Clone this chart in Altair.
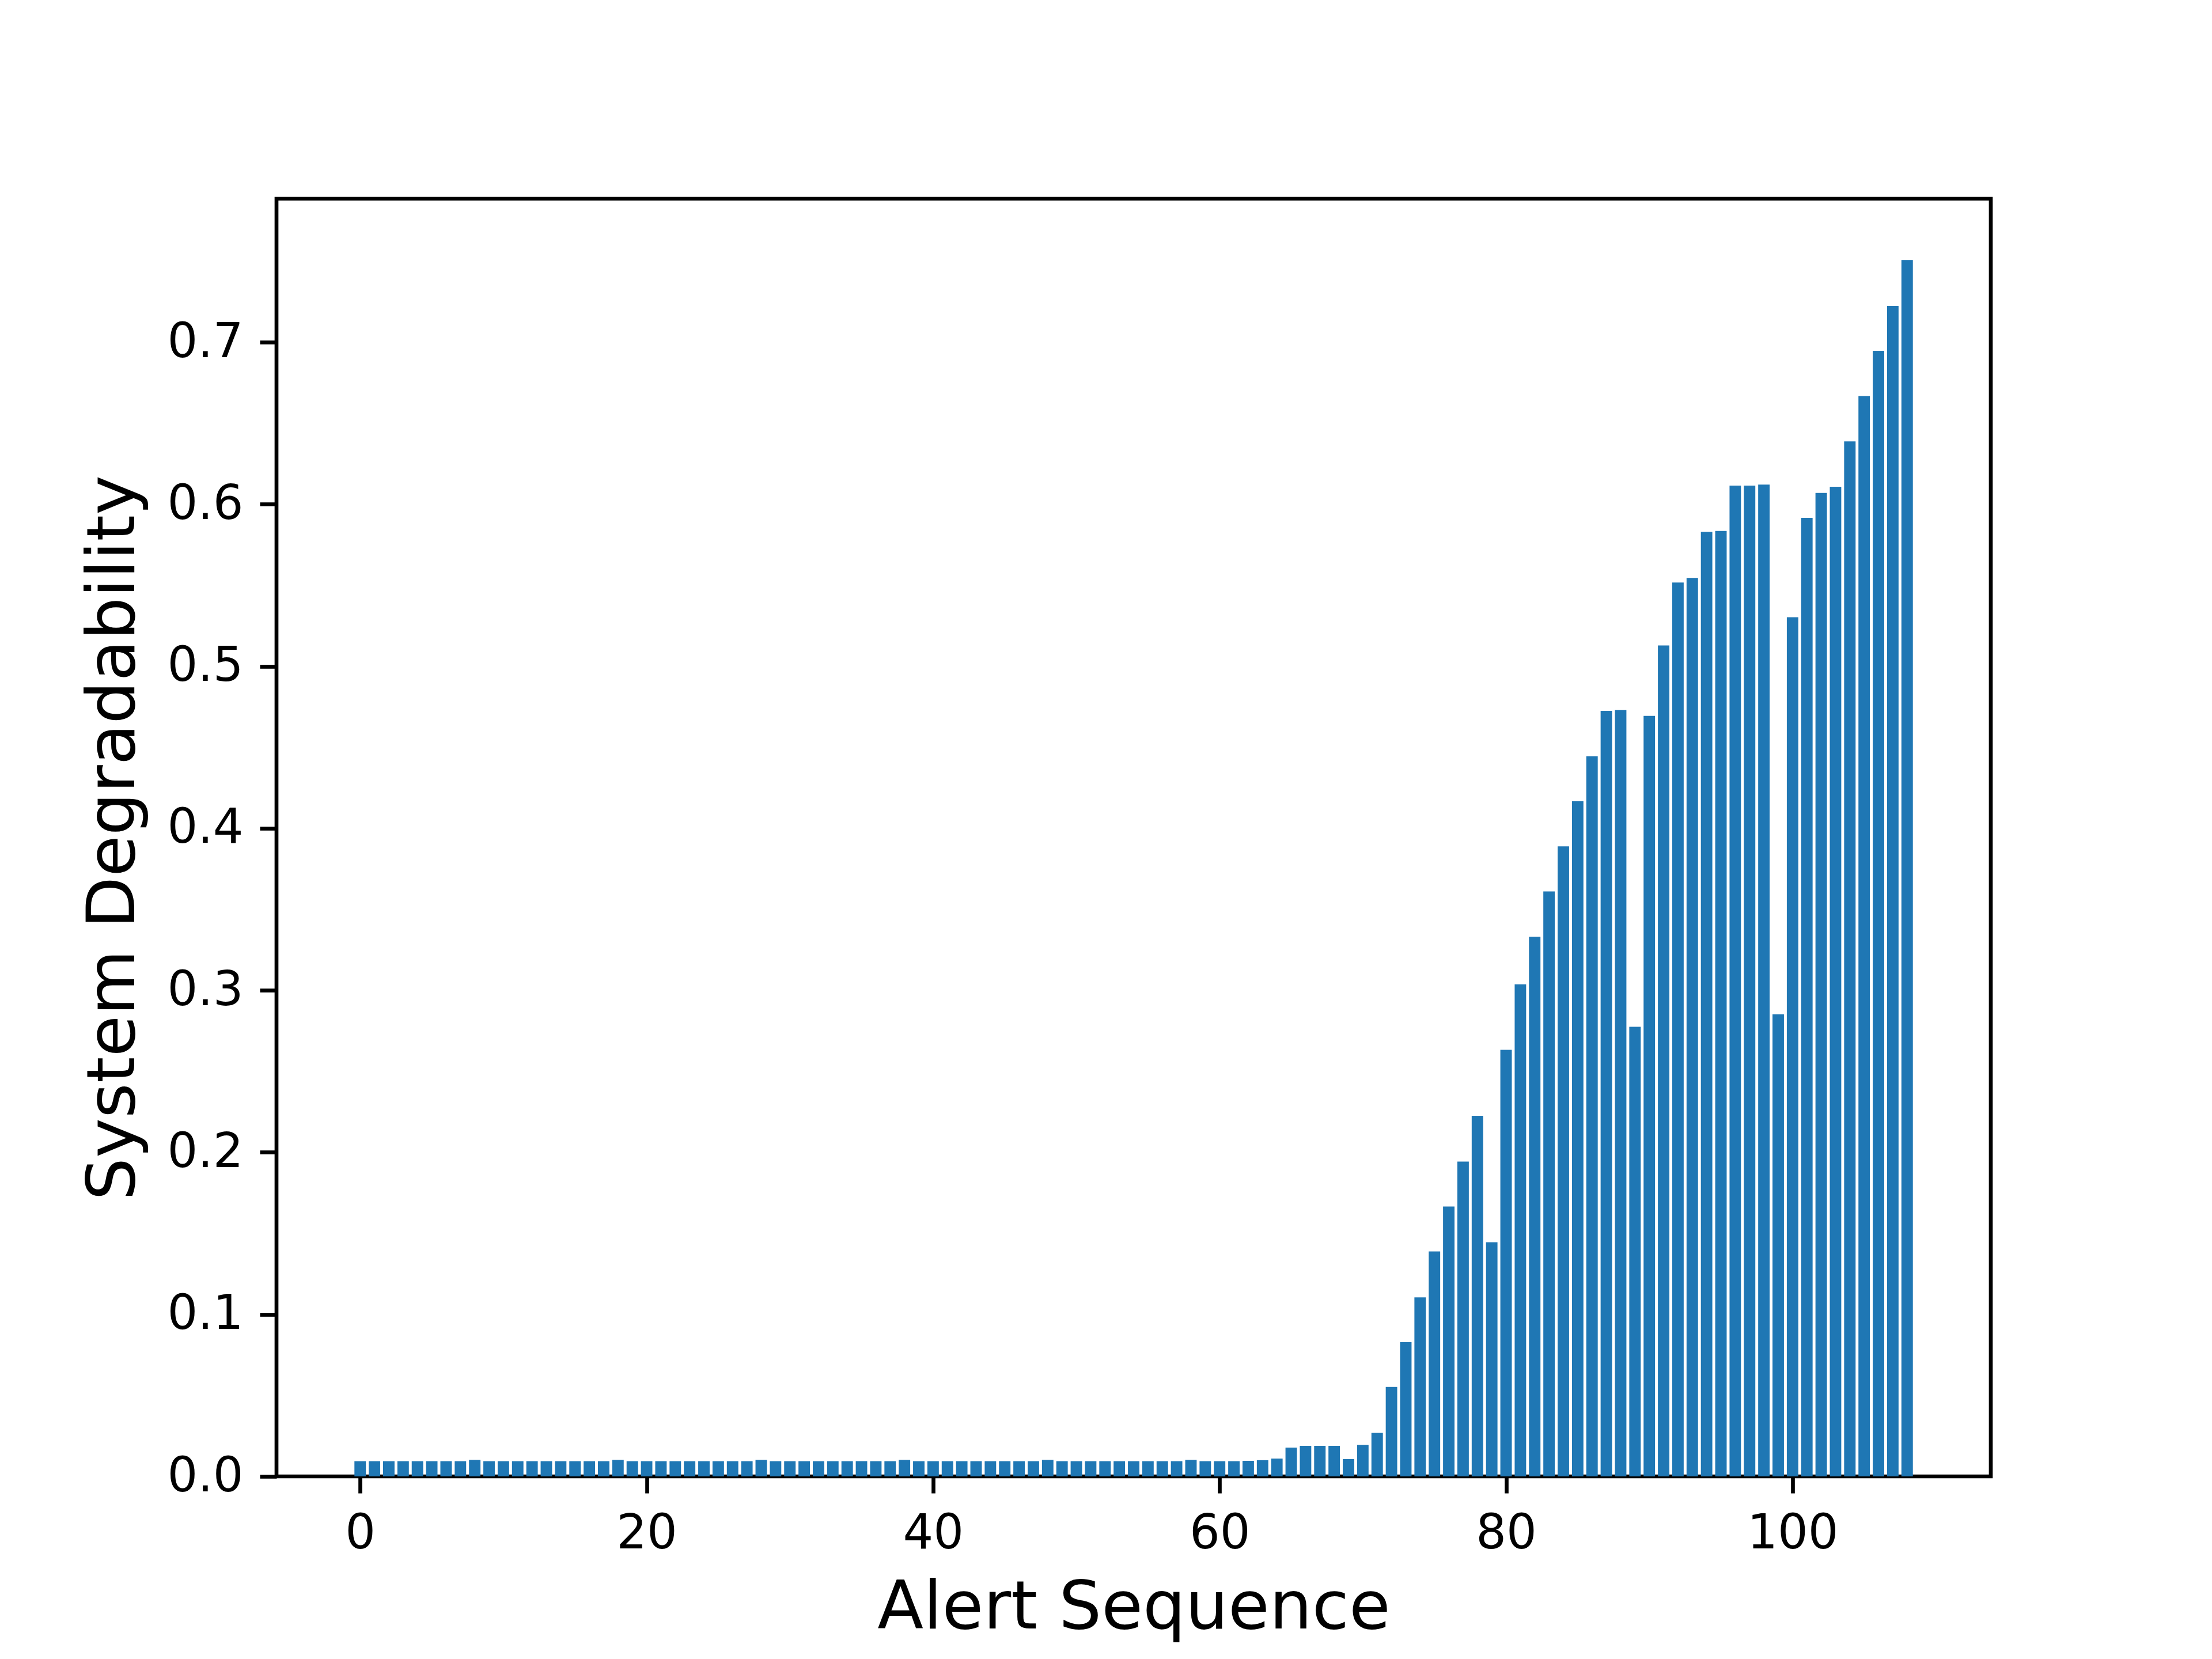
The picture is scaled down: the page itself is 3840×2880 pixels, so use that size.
import altair as alt
import pandas as pd

# Alert sequence index (categories)
alert_index = list(range(109))

# System degradability per alert
degradability = [
    0.0094, 0.0094, 0.0094, 0.0094, 0.0094, 0.0094, 0.0094, 0.0094, 0.0102, 0.0094,
    0.0094, 0.0094, 0.0094, 0.0094, 0.0094, 0.0094, 0.0094, 0.0094, 0.0102, 0.0094,
    0.0094, 0.0094, 0.0094, 0.0094, 0.0094, 0.0094, 0.0094, 0.0094, 0.0102, 0.0094,
    0.0094, 0.0094, 0.0094, 0.0094, 0.0094, 0.0094, 0.0094, 0.0094, 0.0102, 0.0094,
    0.0094, 0.0094, 0.0094, 0.0094, 0.0094, 0.0094, 0.0094, 0.0094, 0.0102, 0.0094,
    0.0094, 0.0094, 0.0094, 0.0094, 0.0094, 0.0094, 0.0094, 0.0094, 0.0102, 0.0094,
    0.0094, 0.0094, 0.0096, 0.0100, 0.0110, 0.0178, 0.0188, 0.0188, 0.0188, 0.0107,
    0.0195, 0.0268, 0.0552, 0.0828, 0.1105, 0.1388, 0.1666, 0.1943, 0.2226, 0.1445,
    0.2633, 0.3037, 0.3331, 0.3611, 0.3889, 0.4167, 0.4444, 0.4725, 0.4730, 0.2775,
    0.4694, 0.5129, 0.5517, 0.5546, 0.5830, 0.5835, 0.6115, 0.6115, 0.6122, 0.2852,
    0.5303, 0.5916, 0.6070, 0.6108, 0.6388, 0.6668, 0.6947, 0.7225, 0.7508,
]

x_ticks = [0, 20, 40, 60, 80, 100]
y_ticks = [0.0, 0.1, 0.2, 0.3, 0.4, 0.5, 0.6, 0.7]

df = pd.DataFrame({"idx": alert_index, "value": degradability})

FONT = "DejaVu Sans"
LW = 6.67  # 0.8pt at 600 dpi

chart = (
    alt.Chart(df)
    .transform_calculate(x0="datum.idx - 0.4", x1="datum.idx + 0.4")
    .mark_bar(color="#1f77b4")
    .encode(
        x=alt.X(
            "x0:Q",
            scale=alt.Scale(domain=[-5.84, 113.84], nice=False, zero=False),
            axis=alt.Axis(
                title="Alert Sequence",
                values=x_ticks,
                format="d",
                grid=False,
                domain=False,
                tickSize=29,
                tickWidth=LW,
                tickColor="black",
                labelPadding=29,
                labelFontSize=83,
                labelFont=FONT,
                labelColor="black",
                titleFont=FONT,
                titleFontSize=116.7,
                titleFontWeight="normal",
                titleColor="black",
                titlePadding=30,
            ),
        ),
        x2="x1:Q",
        y=alt.Y(
            "value:Q",
            scale=alt.Scale(domain=[0, 0.7886], nice=False),
            axis=alt.Axis(
                title="System Degradability",
                values=y_ticks,
                format=".1f",
                grid=False,
                domain=False,
                tickSize=29,
                tickWidth=LW,
                tickColor="black",
                labelPadding=29,
                labelFontSize=83,
                labelFont=FONT,
                labelColor="black",
                titleFont=FONT,
                titleFontSize=116.7,
                titleFontWeight="normal",
                titleColor="black",
                titlePadding=33,
            ),
        ),
        y2=alt.datum(0),
    )
    .properties(
        width=2976,
        height=2218,
        autosize=alt.AutoSizeParams(type="none"),
        padding={"left": 472, "top": 337, "right": 370, "bottom": 300},
        background="white",
    )
    .configure_view(stroke="black", strokeWidth=LW)
)

chart.save("out.html", embed_options={"renderer": "svg", "actions": False})
